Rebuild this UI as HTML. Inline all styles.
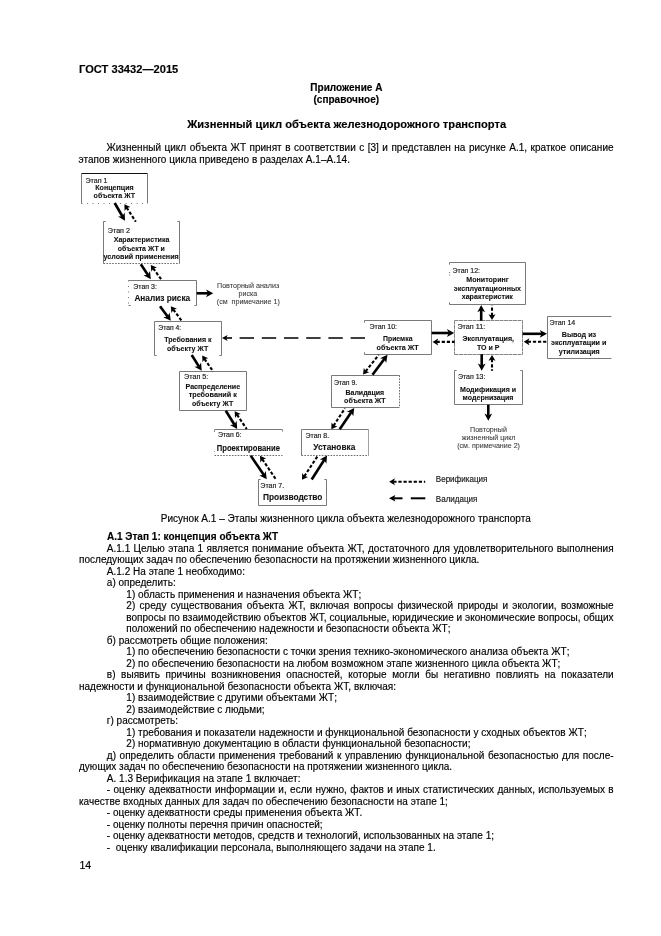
<!DOCTYPE html>
<html lang="ru"><head><meta charset="utf-8"><title>ГОСТ 33432—2015</title>
<style>
html,body{margin:0;padding:0;background:#fff;}
body{width:661px;height:936px;position:relative;overflow:hidden;will-change:transform;font-family:"Liberation Sans",sans-serif;color:#000;}
.l{position:absolute;white-space:nowrap;font-size:10px;line-height:12px;height:12px;margin:0;-webkit-text-stroke:0.15px #000;letter-spacing:0.02px;}
.j{white-space:normal;text-align:justify;text-align-last:justify;}
.b{font-weight:bold;}
svg{position:absolute;left:0;top:0;}
svg text{font-family:"Liberation Sans",sans-serif;white-space:pre;}
</style></head><body>
<div class="l b" style="left:79.00px;top:63.45px;font-size:11.1px;">ГОСТ 33432—2015</div>
<div class="l b" style="left:310.30px;top:81.53px;">Приложение А</div>
<div class="l b" style="left:313.50px;top:94.13px;">(справочное)</div>
<div class="l b" style="left:187.20px;top:117.64px;font-size:11.13px;">Жизненный цикл объекта железнодорожного транспорта</div>
<div class="l j" style="left:106.50px;top:142.03px;width:507.10px;">Жизненный цикл объекта ЖТ принят в соответствии с [3] и представлен на рисунке А.1, краткое описание</div>
<div class="l" style="left:78.60px;top:153.84px;">этапов жизненного цикла приведено в разделах А.1–А.14.</div>
<div class="l" style="left:160.70px;top:513.03px;">Рисунок А.1 – Этапы жизненного цикла объекта железнодорожного транспорта</div>
<div class="l b" style="left:106.90px;top:530.74px;">А.1 Этап 1: концепция объекта ЖТ</div>
<div class="l" style="left:79.40px;top:859.03px;font-size:10.6px;">14</div>
<div class="l j" style="left:106.80px;top:542.88px;width:506.80px;">А.1.1 Целью этапа 1 является понимание объекта ЖТ, достаточного для удовлетворительного выполнения</div>
<div class="l" style="left:79.00px;top:554.38px;">последующих задач по обеспечению безопасности на протяжении жизненного цикла.</div>
<div class="l" style="left:106.80px;top:565.88px;">А.1.2 На этапе 1 необходимо:</div>
<div class="l" style="left:106.80px;top:577.38px;">а) определить:</div>
<div class="l" style="left:126.30px;top:588.88px;">1) область применения и назначения объекта ЖТ;</div>
<div class="l j" style="left:126.30px;top:600.38px;width:487.30px;">2) среду существования объекта ЖТ, включая вопросы физической природы и экологии, возможные</div>
<div class="l j" style="left:126.30px;top:611.88px;width:487.30px;">вопросы по взаимодействию объектов ЖТ, социальные, юридические и экономические вопросы, общих</div>
<div class="l" style="left:126.30px;top:623.38px;">положений по обеспечению надежности и безопасности объекта ЖТ;</div>
<div class="l" style="left:106.80px;top:634.88px;">б) рассмотреть общие положения:</div>
<div class="l" style="left:126.30px;top:646.38px;">1) по обеспечению безопасности с точки зрения технико-экономического анализа объекта ЖТ;</div>
<div class="l" style="left:126.30px;top:657.88px;">2) по обеспечению безопасности на любом возможном этапе жизненного цикла объекта ЖТ;</div>
<div class="l j" style="left:106.80px;top:669.38px;width:506.80px;">в) выявить причины возникновения опасностей, которые могли бы негативно повлиять на показатели</div>
<div class="l" style="left:79.00px;top:680.88px;">надежности и функциональной безопасности объекта ЖТ, включая:</div>
<div class="l" style="left:126.30px;top:692.38px;">1) взаимодействие с другими объектами ЖТ;</div>
<div class="l" style="left:126.30px;top:703.88px;">2) взаимодействие с людьми;</div>
<div class="l" style="left:106.80px;top:715.38px;">г) рассмотреть:</div>
<div class="l" style="left:126.30px;top:726.88px;">1) требования и показатели надежности и функциональной безопасности у сходных объектов ЖТ;</div>
<div class="l" style="left:126.30px;top:738.38px;">2) нормативную документацию в области функциональной безопасности;</div>
<div class="l j" style="left:106.80px;top:749.88px;width:506.80px;">д) определить области применения требований к управлению функциональной безопасностью для после-</div>
<div class="l" style="left:79.00px;top:761.38px;">дующих задач по обеспечению безопасности на протяжении жизненного цикла.</div>
<div class="l" style="left:106.80px;top:772.88px;">А. 1.3 Верификация на этапе 1 включает:</div>
<div class="l j" style="left:106.80px;top:784.38px;width:506.80px;">- оценку адекватности информации и, если нужно, фактов и иных статистических данных, используемых в</div>
<div class="l" style="left:79.00px;top:795.88px;">качестве входных данных для задач по обеспечению безопасности на этапе 1;</div>
<div class="l" style="left:106.80px;top:807.38px;">- оценку адекватности среды применения объекта ЖТ.</div>
<div class="l" style="left:106.80px;top:818.88px;">- оценку полноты перечня причин опасностей;</div>
<div class="l" style="left:106.80px;top:830.38px;">- оценку адекватности методов, средств и технологий, использованных на этапе 1;</div>
<div class="l" style="left:106.80px;top:841.88px;white-space:pre;">-  оценку квалификации персонала, выполняющего задачи на этапе 1.</div>
<svg width="661" height="936" viewBox="0 0 661 936">
<line x1="81.5" y1="173.5" x2="147.5" y2="173.5" stroke="#111" stroke-width="1.1"/>
<line x1="147.5" y1="173.5" x2="147.5" y2="203.5" stroke="#585858" stroke-width="0.8"/>
<line x1="81.5" y1="203.5" x2="147.5" y2="203.5" stroke="#555" stroke-width="0.8" stroke-dasharray="1 4.5"/>
<line x1="81.5" y1="173.5" x2="81.5" y2="203.5" stroke="#585858" stroke-width="0.8"/>
<line x1="179.5" y1="221.5" x2="179.5" y2="263.5" stroke="#585858" stroke-width="0.8"/>
<line x1="103.5" y1="263.5" x2="179.5" y2="263.5" stroke="#444" stroke-width="0.8" stroke-dasharray="1.6 1.3"/>
<line x1="103.5" y1="221.5" x2="103.5" y2="263.5" stroke="#585858" stroke-width="0.8"/>
<line x1="103.5" y1="221.5" x2="105.7" y2="221.5" stroke="#585858" stroke-width="0.8"/>
<line x1="179.5" y1="221.5" x2="177.3" y2="221.5" stroke="#585858" stroke-width="0.8"/>
<line x1="128.5" y1="280.5" x2="196.5" y2="280.5" stroke="#585858" stroke-width="0.8"/>
<line x1="196.5" y1="280.5" x2="196.5" y2="305.5" stroke="#585858" stroke-width="0.8"/>
<line x1="128.5" y1="280.5" x2="128.5" y2="305.5" stroke="#555" stroke-width="0.8" stroke-dasharray="1 4.5"/>
<line x1="128.5" y1="305.5" x2="130.7" y2="305.5" stroke="#585858" stroke-width="0.8"/>
<line x1="196.5" y1="305.5" x2="194.3" y2="305.5" stroke="#585858" stroke-width="0.8"/>
<line x1="154.5" y1="321.5" x2="221.5" y2="321.5" stroke="#585858" stroke-width="0.8"/>
<line x1="221.5" y1="321.5" x2="221.5" y2="355.5" stroke="#585858" stroke-width="0.8"/>
<line x1="154.5" y1="321.5" x2="154.5" y2="355.5" stroke="#585858" stroke-width="0.8"/>
<line x1="154.5" y1="355.5" x2="156.7" y2="355.5" stroke="#585858" stroke-width="0.8"/>
<line x1="221.5" y1="355.5" x2="219.3" y2="355.5" stroke="#585858" stroke-width="0.8"/>
<line x1="179.5" y1="371.5" x2="246.5" y2="371.5" stroke="#585858" stroke-width="0.8"/>
<line x1="246.5" y1="371.5" x2="246.5" y2="410.5" stroke="#585858" stroke-width="0.8"/>
<line x1="179.5" y1="410.5" x2="246.5" y2="410.5" stroke="#585858" stroke-width="0.8"/>
<line x1="179.5" y1="371.5" x2="179.5" y2="410.5" stroke="#585858" stroke-width="0.8"/>
<line x1="214.5" y1="429.5" x2="282.5" y2="429.5" stroke="#585858" stroke-width="0.8"/>
<line x1="214.5" y1="455.5" x2="282.5" y2="455.5" stroke="#444" stroke-width="0.8" stroke-dasharray="1.6 1.3"/>
<line x1="326.5" y1="479.5" x2="326.5" y2="505.5" stroke="#585858" stroke-width="0.8"/>
<line x1="258.5" y1="505.5" x2="326.5" y2="505.5" stroke="#585858" stroke-width="0.8"/>
<line x1="258.5" y1="479.5" x2="258.5" y2="505.5" stroke="#585858" stroke-width="0.8"/>
<line x1="258.5" y1="479.5" x2="260.7" y2="479.5" stroke="#585858" stroke-width="0.8"/>
<line x1="326.5" y1="479.5" x2="324.3" y2="479.5" stroke="#585858" stroke-width="0.8"/>
<line x1="301.5" y1="429.5" x2="368.5" y2="429.5" stroke="#585858" stroke-width="0.8"/>
<line x1="368.5" y1="429.5" x2="368.5" y2="455.5" stroke="#777" stroke-width="0.7"/>
<line x1="301.5" y1="455.5" x2="368.5" y2="455.5" stroke="#444" stroke-width="0.8" stroke-dasharray="1.6 1.3"/>
<line x1="301.5" y1="429.5" x2="301.5" y2="455.5" stroke="#585858" stroke-width="0.8"/>
<line x1="331.5" y1="375.5" x2="399.5" y2="375.5" stroke="#585858" stroke-width="0.8"/>
<line x1="399.5" y1="375.5" x2="399.5" y2="407.5" stroke="#444" stroke-width="0.8" stroke-dasharray="1.6 1.3"/>
<line x1="331.5" y1="407.5" x2="399.5" y2="407.5" stroke="#585858" stroke-width="0.8"/>
<line x1="331.5" y1="375.5" x2="331.5" y2="407.5" stroke="#585858" stroke-width="0.8"/>
<line x1="364.5" y1="320.5" x2="431.5" y2="320.5" stroke="#585858" stroke-width="0.8"/>
<line x1="431.5" y1="320.5" x2="431.5" y2="354.5" stroke="#585858" stroke-width="0.8"/>
<line x1="364.5" y1="354.5" x2="431.5" y2="354.5" stroke="#585858" stroke-width="0.8"/>
<line x1="364.5" y1="320.5" x2="364.5" y2="322.7" stroke="#585858" stroke-width="0.8"/>
<line x1="364.5" y1="354.5" x2="364.5" y2="352.3" stroke="#585858" stroke-width="0.8"/>
<line x1="454.5" y1="320.5" x2="522.5" y2="320.5" stroke="#666" stroke-width="0.8" stroke-dasharray="4 0.5"/>
<line x1="522.5" y1="320.5" x2="522.5" y2="354.5" stroke="#666" stroke-width="0.8" stroke-dasharray="4 0.5"/>
<line x1="454.5" y1="354.5" x2="522.5" y2="354.5" stroke="#666" stroke-width="0.8" stroke-dasharray="4 0.5"/>
<line x1="454.5" y1="320.5" x2="454.5" y2="354.5" stroke="#666" stroke-width="0.8" stroke-dasharray="4 0.5"/>
<line x1="449.5" y1="262.5" x2="525.5" y2="262.5" stroke="#585858" stroke-width="0.8"/>
<line x1="525.5" y1="262.5" x2="525.5" y2="304.5" stroke="#585858" stroke-width="0.8"/>
<line x1="449.5" y1="304.5" x2="525.5" y2="304.5" stroke="#585858" stroke-width="0.8"/>
<line x1="449.5" y1="262.5" x2="449.5" y2="264.7" stroke="#585858" stroke-width="0.8"/>
<line x1="449.5" y1="304.5" x2="449.5" y2="302.3" stroke="#585858" stroke-width="0.8"/>
<line x1="522.5" y1="370.5" x2="522.5" y2="404.5" stroke="#585858" stroke-width="0.8"/>
<line x1="454.5" y1="404.5" x2="522.5" y2="404.5" stroke="#585858" stroke-width="0.8"/>
<line x1="454.5" y1="370.5" x2="454.5" y2="404.5" stroke="#585858" stroke-width="0.8"/>
<line x1="454.5" y1="370.5" x2="456.7" y2="370.5" stroke="#585858" stroke-width="0.8"/>
<line x1="522.5" y1="370.5" x2="520.3" y2="370.5" stroke="#585858" stroke-width="0.8"/>
<line x1="547.5" y1="316.5" x2="611.5" y2="316.5" stroke="#585858" stroke-width="0.8"/>
<line x1="547.5" y1="358.5" x2="611.5" y2="358.5" stroke="#585858" stroke-width="0.8"/>
<line x1="547.5" y1="316.5" x2="547.5" y2="358.5" stroke="#585858" stroke-width="0.8"/>
<line x1="114.7" y1="203.0" x2="122.5" y2="216.5" stroke="#000" stroke-width="2.6"/>
<path d="M125.0,220.8 L118.0,216.4 L122.3,216.2 L124.7,212.5 Z" fill="#000"/>
<line x1="140.8" y1="264.2" x2="148.0" y2="275.0" stroke="#000" stroke-width="2.6"/>
<path d="M150.8,279.2 L143.5,275.3 L147.9,274.8 L150.0,271.0 Z" fill="#000"/>
<line x1="160.0" y1="306.3" x2="167.8" y2="316.8" stroke="#000" stroke-width="2.6"/>
<path d="M170.8,320.8 L163.3,317.3 L167.6,316.5 L169.6,312.6 Z" fill="#000"/>
<line x1="191.7" y1="355.0" x2="199.0" y2="366.6" stroke="#000" stroke-width="2.6"/>
<path d="M201.7,370.8 L194.5,366.7 L198.9,366.3 L201.1,362.5 Z" fill="#000"/>
<line x1="225.8" y1="410.8" x2="234.5" y2="424.8" stroke="#000" stroke-width="2.6"/>
<path d="M237.2,429.0 L230.0,424.9 L234.4,424.5 L236.6,420.7 Z" fill="#000"/>
<line x1="250.8" y1="455.8" x2="263.9" y2="475.1" stroke="#000" stroke-width="2.6"/>
<path d="M266.7,479.2 L259.4,475.4 L263.7,474.8 L265.8,471.0 Z" fill="#000"/>
<line x1="311.7" y1="479.5" x2="324.3" y2="459.7" stroke="#000" stroke-width="2.6"/>
<path d="M327.0,455.5 L326.4,463.8 L324.2,460.0 L319.8,459.6 Z" fill="#000"/>
<line x1="339.7" y1="429.2" x2="351.4" y2="412.1" stroke="#000" stroke-width="2.6"/>
<path d="M354.2,408.0 L353.3,416.2 L351.2,412.4 L346.9,411.8 Z" fill="#000"/>
<line x1="372.5" y1="374.7" x2="384.5" y2="358.7" stroke="#000" stroke-width="2.6"/>
<path d="M387.5,354.7 L386.2,362.9 L384.3,358.9 L380.0,358.2 Z" fill="#000"/>
<line x1="431.7" y1="333.0" x2="449.2" y2="333.0" stroke="#000" stroke-width="2.6"/>
<path d="M454.2,333.0 L446.9,336.9 L448.9,333.0 L446.9,329.1 Z" fill="#000"/>
<line x1="481.2" y1="320.8" x2="481.2" y2="310.0" stroke="#000" stroke-width="2.6"/>
<path d="M481.2,305.0 L485.1,312.3 L481.2,310.3 L477.3,312.3 Z" fill="#000"/>
<line x1="481.7" y1="354.2" x2="481.7" y2="365.8" stroke="#000" stroke-width="2.6"/>
<path d="M481.7,370.8 L477.8,363.5 L481.7,365.5 L485.6,363.5 Z" fill="#000"/>
<line x1="522.5" y1="333.8" x2="542.0" y2="333.8" stroke="#000" stroke-width="2.6"/>
<path d="M547.0,333.8 L539.7,337.7 L541.7,333.8 L539.7,329.9 Z" fill="#000"/>
<line x1="488.3" y1="404.7" x2="488.3" y2="415.8" stroke="#000" stroke-width="2.6"/>
<path d="M488.3,420.8 L484.4,413.5 L488.3,415.5 L492.2,413.5 Z" fill="#000"/>
<line x1="196.7" y1="293.3" x2="208.3" y2="293.3" stroke="#000" stroke-width="2.6"/>
<path d="M213.3,293.3 L206.0,297.2 L208.0,293.3 L206.0,289.4 Z" fill="#000"/>
<line x1="126.6" y1="207.6" x2="135.8" y2="221.7" stroke="#000" stroke-width="2.1" stroke-dasharray="3.2 1.9"/>
<path d="M124.4,204.2 L130.4,207.1 L126.8,207.9 L124.6,210.9 Z" fill="#000"/>
<line x1="153.2" y1="268.3" x2="161.7" y2="280.0" stroke="#000" stroke-width="2.1" stroke-dasharray="3.2 1.9"/>
<path d="M150.8,265.0 L157.0,267.6 L153.4,268.6 L151.3,271.7 Z" fill="#000"/>
<line x1="173.3" y1="309.6" x2="181.7" y2="320.8" stroke="#000" stroke-width="2.1" stroke-dasharray="3.2 1.9"/>
<path d="M170.8,306.3 L177.0,308.8 L173.4,309.8 L171.4,313.0 Z" fill="#000"/>
<line x1="204.5" y1="358.9" x2="213.3" y2="371.7" stroke="#000" stroke-width="2.1" stroke-dasharray="3.2 1.9"/>
<path d="M202.2,355.5 L208.3,358.2 L204.7,359.1 L202.5,362.2 Z" fill="#000"/>
<line x1="237.0" y1="414.7" x2="246.7" y2="429.0" stroke="#000" stroke-width="2.1" stroke-dasharray="3.2 1.9"/>
<path d="M234.7,411.3 L240.8,414.1 L237.2,414.9 L235.0,418.0 Z" fill="#000"/>
<line x1="262.3" y1="459.2" x2="275.8" y2="479.2" stroke="#000" stroke-width="2.1" stroke-dasharray="3.2 1.9"/>
<path d="M260.0,455.8 L266.1,458.6 L262.5,459.4 L260.3,462.5 Z" fill="#000"/>
<line x1="304.3" y1="476.3" x2="318.0" y2="455.5" stroke="#000" stroke-width="2.1" stroke-dasharray="3.2 1.9"/>
<path d="M302.0,479.7 L302.2,473.0 L304.4,476.0 L308.1,476.9 Z" fill="#000"/>
<line x1="333.5" y1="425.8" x2="345.0" y2="408.3" stroke="#000" stroke-width="2.1" stroke-dasharray="3.2 1.9"/>
<path d="M331.3,429.2 L331.5,422.5 L333.7,425.5 L337.4,426.4 Z" fill="#000"/>
<line x1="365.6" y1="371.3" x2="378.7" y2="355.0" stroke="#000" stroke-width="2.1" stroke-dasharray="3.2 1.9"/>
<path d="M363.0,374.5 L363.8,367.9 L365.8,371.1 L369.3,372.3 Z" fill="#000"/>
<line x1="436.6" y1="341.9" x2="454.7" y2="341.9" stroke="#000" stroke-width="2.1" stroke-dasharray="3.2 1.9"/>
<path d="M432.5,341.9 L438.2,338.4 L436.9,341.9 L438.2,345.4 Z" fill="#000"/>
<line x1="492.0" y1="315.9" x2="492.0" y2="305.5" stroke="#000" stroke-width="2.1" stroke-dasharray="3.2 1.9"/>
<path d="M492.0,320.0 L488.5,314.3 L492.0,315.6 L495.5,314.3 Z" fill="#000"/>
<line x1="492.0" y1="359.1" x2="492.0" y2="370.8" stroke="#000" stroke-width="2.1" stroke-dasharray="3.2 1.9"/>
<path d="M492.0,355.0 L495.5,360.7 L492.0,359.4 L488.5,360.7 Z" fill="#000"/>
<line x1="527.8" y1="341.8" x2="547.5" y2="341.8" stroke="#000" stroke-width="2.1" stroke-dasharray="3.2 1.9"/>
<path d="M523.7,341.8 L529.4,338.3 L528.1,341.8 L529.4,345.3 Z" fill="#000"/>
<line x1="393.3" y1="481.7" x2="425.2" y2="481.7" stroke="#000" stroke-width="2.1" stroke-dasharray="3.2 1.9"/>
<path d="M389.2,481.7 L394.9,478.2 L393.6,481.7 L394.9,485.2 Z" fill="#000"/>
<path d="M214.5,432 V429.7 M282.5,429.7 V431.6 M214.5,451 v0.9" fill="none" stroke="#555" stroke-width="0.7"/>
<path d="M449.6,272.2 v0.9 M449.6,274.6 v0.9" fill="none" stroke="#444" stroke-width="0.9"/>
<line x1="365" y1="338" x2="239" y2="338" stroke="#000" stroke-width="1.6" stroke-dasharray="14.4 7.8"/>
<line x1="232" y1="338" x2="225" y2="338" stroke="#000" stroke-width="1.6"/>
<path d="M222,338 L227.6,335 L226.2,338 L227.6,341 Z" fill="#000"/>
<line x1="425.3" y1="498.3" x2="410.8" y2="498.3" stroke="#000" stroke-width="2"/>
<line x1="402.5" y1="498.3" x2="392" y2="498.3" stroke="#000" stroke-width="2"/>
<path d="M389,498.3 L395.4,495 L394,498.3 L395.4,501.6 Z" fill="#000"/>
<text transform="translate(85.40,182.80) scale(0.9259,1)" font-size="7.71" fill="#1a1a1a" stroke="#1a1a1a" stroke-width="0.18">Этап 1</text>
<text transform="translate(95.30,189.50) scale(0.9259,1)" font-size="7.66" font-weight="bold" fill="#111" stroke="#111" stroke-width="0.1">Концепция</text>
<text transform="translate(93.60,198.40) scale(0.9259,1)" font-size="7.66" font-weight="bold" fill="#111" stroke="#111" stroke-width="0.1">объекта ЖТ</text>
<text transform="translate(107.80,232.70) scale(0.9259,1)" font-size="7.74" fill="#1a1a1a" stroke="#1a1a1a" stroke-width="0.18">Этап 2</text>
<text transform="translate(113.70,242.20) scale(0.9259,1)" font-size="7.65" font-weight="bold" fill="#111" stroke="#111" stroke-width="0.1">Характеристика</text>
<text transform="translate(117.80,251.20) scale(0.9259,1)" font-size="7.54" font-weight="bold" fill="#111" stroke="#111" stroke-width="0.1">объекта ЖТ и</text>
<text transform="translate(103.50,259.20) scale(0.9259,1)" font-size="7.73" font-weight="bold" fill="#111" stroke="#111" stroke-width="0.1">условий применения</text>
<text transform="translate(133.30,289.10) scale(0.9259,1)" font-size="7.58" fill="#1a1a1a" stroke="#1a1a1a" stroke-width="0.18">Этап 3:</text>
<text transform="translate(134.40,301.30) scale(0.9259,1)" font-size="8.95" font-weight="bold" fill="#111" stroke="#111" stroke-width="0.1">Анализ риска</text>
<text transform="translate(158.30,330.00) scale(0.9259,1)" font-size="7.36" fill="#1a1a1a" stroke="#1a1a1a" stroke-width="0.18">Этап 4:</text>
<text transform="translate(164.20,342.00) scale(0.9259,1)" font-size="7.66" font-weight="bold" fill="#111" stroke="#111" stroke-width="0.1">Требования к</text>
<text transform="translate(167.00,350.90) scale(0.9259,1)" font-size="7.57" font-weight="bold" fill="#111" stroke="#111" stroke-width="0.1">объекту ЖТ</text>
<text transform="translate(184.00,379.10) scale(0.9259,1)" font-size="7.81" fill="#1a1a1a" stroke="#1a1a1a" stroke-width="0.18">Этап 5:</text>
<text transform="translate(185.50,389.00) scale(0.9259,1)" font-size="7.70" font-weight="bold" fill="#111" stroke="#111" stroke-width="0.1">Распределение</text>
<text transform="translate(188.70,397.40) scale(0.9259,1)" font-size="7.85" font-weight="bold" fill="#111" stroke="#111" stroke-width="0.1">требований к</text>
<text transform="translate(192.00,406.00) scale(0.9259,1)" font-size="7.57" font-weight="bold" fill="#111" stroke="#111" stroke-width="0.1">объекту ЖТ</text>
<text transform="translate(217.90,437.20) scale(0.9259,1)" font-size="7.58" fill="#1a1a1a" stroke="#1a1a1a" stroke-width="0.18">Этап 6:</text>
<text transform="translate(216.70,450.50) scale(0.9259,1)" font-size="8.28" font-weight="bold" fill="#111" stroke="#111" stroke-width="0.1">Проектирование</text>
<text transform="translate(260.30,487.70) scale(0.9259,1)" font-size="7.65" fill="#1a1a1a" stroke="#1a1a1a" stroke-width="0.18">Этап 7.</text>
<text transform="translate(263.00,499.90) scale(0.9259,1)" font-size="9.01" font-weight="bold" fill="#111" stroke="#111" stroke-width="0.1">Производство</text>
<text transform="translate(305.60,438.00) scale(0.9259,1)" font-size="7.52" fill="#1a1a1a" stroke="#1a1a1a" stroke-width="0.18">Этап 8.</text>
<text transform="translate(313.30,449.80) scale(0.9259,1)" font-size="8.99" font-weight="bold" fill="#111" stroke="#111" stroke-width="0.1">Установка</text>
<text transform="translate(333.90,385.20) scale(0.9259,1)" font-size="7.49" fill="#1a1a1a" stroke="#1a1a1a" stroke-width="0.18">Этап 9.</text>
<text transform="translate(345.50,394.60) scale(0.9259,1)" font-size="7.55" font-weight="bold" fill="#111" stroke="#111" stroke-width="0.1">Валидация</text>
<text transform="translate(344.10,402.80) scale(0.9259,1)" font-size="7.64" font-weight="bold" fill="#111" stroke="#111" stroke-width="0.1">объекта ЖТ</text>
<text transform="translate(369.50,329.20) scale(0.9259,1)" font-size="7.58" fill="#1a1a1a" stroke="#1a1a1a" stroke-width="0.18">Этап 10:</text>
<text transform="translate(383.00,340.80) scale(0.9259,1)" font-size="7.44" font-weight="bold" fill="#111" stroke="#111" stroke-width="0.1">Приемка</text>
<text transform="translate(376.50,349.50) scale(0.9259,1)" font-size="7.79" font-weight="bold" fill="#111" stroke="#111" stroke-width="0.1">объекта ЖТ</text>
<text transform="translate(457.40,329.00) scale(0.9259,1)" font-size="7.81" fill="#1a1a1a" stroke="#1a1a1a" stroke-width="0.18">Этап 11:</text>
<text transform="translate(462.50,341.40) scale(0.9259,1)" font-size="7.74" font-weight="bold" fill="#111" stroke="#111" stroke-width="0.1">Эксплуатация,</text>
<text transform="translate(477.00,349.80) scale(0.9259,1)" font-size="7.59" font-weight="bold" fill="#111" stroke="#111" stroke-width="0.1">ТО и Р</text>
<text transform="translate(452.60,273.20) scale(0.9259,1)" font-size="7.53" fill="#1a1a1a" stroke="#1a1a1a" stroke-width="0.18">Этап 12:</text>
<text transform="translate(466.30,281.70) scale(0.9259,1)" font-size="7.64" font-weight="bold" fill="#111" stroke="#111" stroke-width="0.1">Мониторинг</text>
<text transform="translate(453.80,290.80) scale(0.9259,1)" font-size="7.72" font-weight="bold" fill="#111" stroke="#111" stroke-width="0.1">эксплуатационных</text>
<text transform="translate(461.70,299.30) scale(0.9259,1)" font-size="7.68" font-weight="bold" fill="#111" stroke="#111" stroke-width="0.1">характеристик</text>
<text transform="translate(457.90,379.30) scale(0.9259,1)" font-size="7.58" fill="#1a1a1a" stroke="#1a1a1a" stroke-width="0.18">Этап 13:</text>
<text transform="translate(460.00,391.60) scale(0.9259,1)" font-size="7.65" font-weight="bold" fill="#111" stroke="#111" stroke-width="0.1">Модификация и</text>
<text transform="translate(462.60,399.70) scale(0.9259,1)" font-size="7.65" font-weight="bold" fill="#111" stroke="#111" stroke-width="0.1">модернизация</text>
<text transform="translate(549.40,325.40) scale(0.9259,1)" font-size="7.66" fill="#1a1a1a" stroke="#1a1a1a" stroke-width="0.18">Этап 14</text>
<text transform="translate(561.70,336.80) scale(0.9259,1)" font-size="7.76" font-weight="bold" fill="#111" stroke="#111" stroke-width="0.1">Вывод из</text>
<text transform="translate(551.00,345.40) scale(0.9259,1)" font-size="7.78" font-weight="bold" fill="#111" stroke="#111" stroke-width="0.1">эксплуатации и</text>
<text transform="translate(558.70,353.90) scale(0.9259,1)" font-size="7.67" font-weight="bold" fill="#111" stroke="#111" stroke-width="0.1">утилизация</text>
<text transform="translate(470.00,432.00) scale(0.9259,1)" font-size="7.72" fill="#3a3a3a" stroke="#3a3a3a" stroke-width="0.08">Повторный</text>
<text transform="translate(461.70,439.80) scale(0.9259,1)" font-size="7.63" fill="#3a3a3a" stroke="#3a3a3a" stroke-width="0.08">жизненный цикл</text>
<text transform="translate(457.20,448.20) scale(0.9259,1)" font-size="7.66" fill="#3a3a3a" stroke="#3a3a3a" stroke-width="0.08">(см. примечание 2)</text>
<text transform="translate(435.80,482.40) scale(0.9259,1)" font-size="8.71" fill="#1a1a1a" stroke="#1a1a1a" stroke-width="0.18">Верификация</text>
<text transform="translate(435.80,502.40) scale(0.9259,1)" font-size="8.70" fill="#1a1a1a" stroke="#1a1a1a" stroke-width="0.18">Валидация</text>
<text transform="translate(217.00,287.60) scale(0.9259,1)" font-size="7.73" fill="#3a3a3a" stroke="#3a3a3a" stroke-width="0.08">Повторный анализ</text>
<text transform="translate(238.60,295.90) scale(0.9259,1)" font-size="7.68" fill="#3a3a3a" stroke="#3a3a3a" stroke-width="0.08">риска</text>
<text transform="translate(216.80,304.20) scale(0.9259,1)" font-size="7.71" fill="#3a3a3a" stroke="#3a3a3a" stroke-width="0.08">(см  примечание 1)</text>
</svg>
</body></html>
